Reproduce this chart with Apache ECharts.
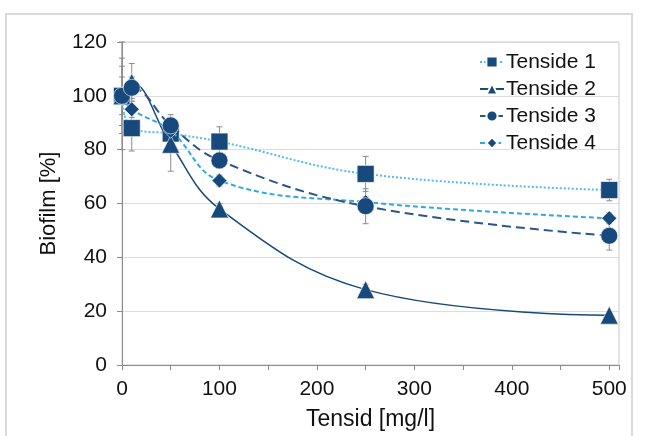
<!DOCTYPE html>
<html>
<head>
<meta charset="utf-8">
<script src="https://cdn.jsdelivr.net/npm/echarts@6/dist/echarts.min.js"></script>
<style>
html,body{margin:0;padding:0;background:#fff;}
#frame{position:absolute;left:5px;top:13px;width:628px;height:440px;border:2px solid #d9d9d9;box-sizing:border-box;}
#chart{position:absolute;left:0;top:0;width:659px;height:436px;}
</style>
</head>
<body>
<div id="frame"></div>
<div id="chart"></div>
<script>
const concentrations = [0, 10, 50, 100, 250, 500];
const tenside1 = [100, 88, 86, 83, 71, 65];
const tenside2 = [100, 105, 82, 58, 28, 18.5];
const tenside3 = [100, 103, 89, 76, 59, 48];
const tenside4 = [100, 95, 87, 68.5, 60.5, 54.5];
const err1 = [14, 8.5, 3, 5.5, 6.5, 4];
const err2 = [11, 7, 10, 2, 2, 1];
const err3 = [7, 4, 4, 3, 6.5, 5.3];
const err4 = [20, 3, 3, 2, 2, 2];
const seriesNames = ['Tenside 1', 'Tenside 2', 'Tenside 3', 'Tenside 4'];
const xAxisTitle = 'Tensid [mg/l]';
const yAxisTitle = 'Biofilm [%]';

const dark = '#17497c';
const FONT = 'Liberation Sans, Arial, sans-serif';
const TXT = '#111111';

function pairs(vals) { return concentrations.map((x, i) => [x, vals[i]]); }
function errData(vals, errs) { return concentrations.map((x, i) => [x, vals[i] - errs[i], vals[i] + errs[i]]); }

function errorSeries(vals, errs) {
  return {
    type: 'custom',
    z: 1,
    silent: true,
    data: errData(vals, errs),
    renderItem: function (params, api) {
      const x = api.value(0);
      const lo = api.coord([x, api.value(1)]);
      const hi = api.coord([x, api.value(2)]);
      const w = 3;
      const st = { stroke: '#8c8c8c', lineWidth: 1 };
      return {
        type: 'group',
        children: [
          { type: 'line', shape: { x1: lo[0], y1: lo[1], x2: hi[0], y2: hi[1] }, style: st },
          { type: 'line', shape: { x1: lo[0] - w, y1: lo[1], x2: lo[0] + w, y2: lo[1] }, style: st },
          { type: 'line', shape: { x1: hi[0] - w, y1: hi[1], x2: hi[0] + w, y2: hi[1] }, style: st }
        ]
      };
    }
  };
}

function lineSeries(name, vals, symbol, size, color, type, width, z) {
  return {
    name: name,
    type: 'line',
    data: pairs(vals),
    smooth: 0.4,
    symbol: symbol,
    symbolSize: size,
    z: z,
    lineStyle: { color: color, type: type, width: width },
    itemStyle: { color: dark, borderColor: '#ffffff', borderWidth: 0.6, opacity: 1 },
    emphasis: { disabled: true }
  };
}

const chart = echarts.init(document.getElementById('chart'), null, { renderer: 'canvas' });
chart.setOption({
  animation: false,
  backgroundColor: 'transparent',
  grid: { left: 122, top: 42, right: 40, bottom: 71, show: true, borderColor: '#c8c8c8', borderWidth: 1 },
  legend: {
    data: seriesNames,
    orient: 'vertical',
    left: 474,
    top: 46,
    itemWidth: 24,
    itemHeight: 14,
    itemGap: 5,
    textStyle: { fontFamily: FONT, fontSize: 21, color: TXT, lineHeight: 22, padding: [0, 0, 0, -3] }
  },
  xAxis: {
    type: 'value',
    min: 0,
    max: 510,
    interval: 50,
    name: xAxisTitle,
    nameLocation: 'middle',
    nameGap: 43,
    nameTextStyle: { fontFamily: FONT, fontSize: 23, color: TXT },
    axisLine: { show: true, lineStyle: { color: '#8c8c8c', width: 1 } },
    axisTick: { show: true, length: 5, lineStyle: { color: '#8c8c8c' } },
    splitLine: { show: false },
    axisLabel: {
      fontFamily: FONT, fontSize: 21, color: TXT, margin: 14,
      formatter: function (v) { return v % 100 === 0 ? String(v) : ''; }
    }
  },
  yAxis: {
    type: 'value',
    min: 0,
    max: 120,
    interval: 20,
    name: yAxisTitle,
    nameLocation: 'middle',
    nameGap: 62,
    nameTextStyle: { fontFamily: FONT, fontSize: 22, color: TXT },
    axisLine: { show: true, lineStyle: { color: '#8c8c8c', width: 1 } },
    axisTick: { show: true, length: 5, lineStyle: { color: '#8c8c8c' } },
    splitLine: { show: true, lineStyle: { color: '#dcdcdc', width: 1 } },
    axisLabel: { fontFamily: FONT, fontSize: 21, color: TXT, margin: 15 }
  },
  series: [
    errorSeries(tenside1, err1),
    errorSeries(tenside2, err2),
    errorSeries(tenside3, err3),
    errorSeries(tenside4, err4),
    lineSeries(seriesNames[0], tenside1, 'rect', 17, '#4dbfea', [2, 2], 2, 3),
    lineSeries(seriesNames[1], tenside2, 'triangle', 18, dark, 'solid', 1.5, 4),
    lineSeries(seriesNames[3], tenside4, 'diamond', 15, '#2aace3', [5, 3], 2, 5),
    lineSeries(seriesNames[2], tenside3, 'circle', 17, '#2a5687', [9, 5], 2, 6)
  ]
});
</script>
</body>
</html>
